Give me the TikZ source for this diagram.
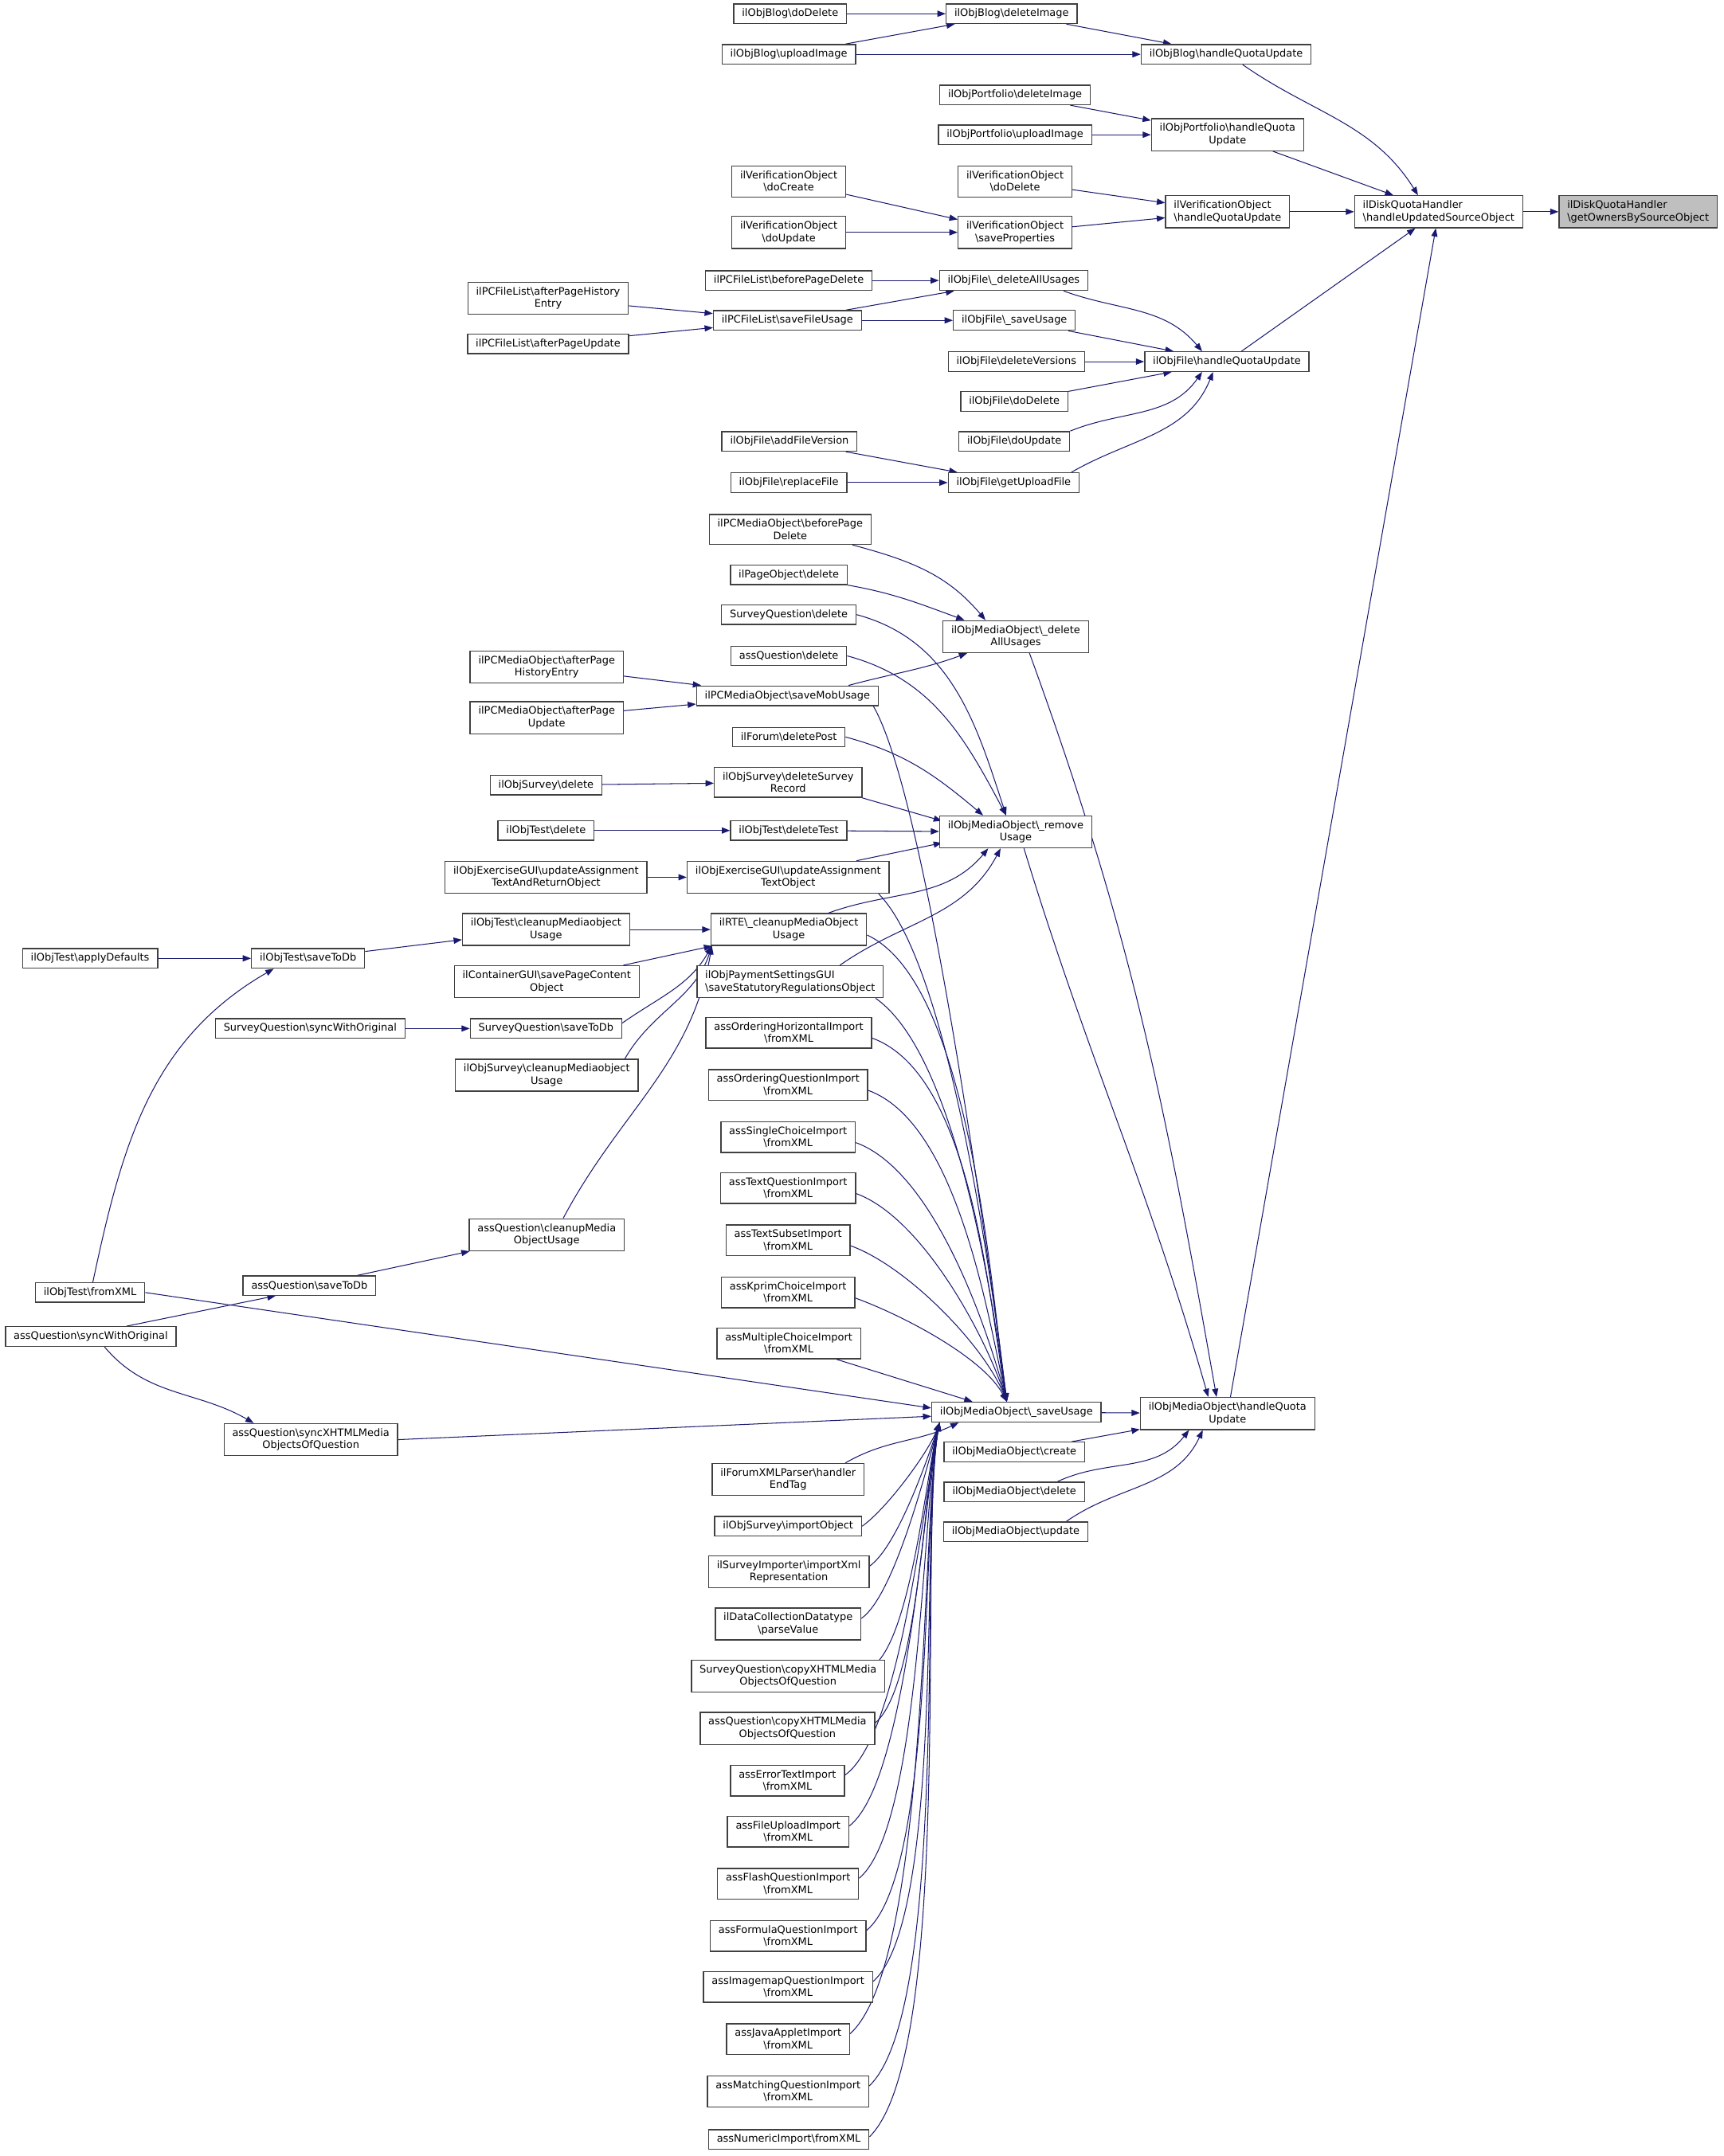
\documentclass[tikz,border=0pt]{standalone}
\usepackage{fontspec}
\setmainfont{DejaVu Sans}
\usetikzlibrary{arrows.meta, calc, backgrounds}
\definecolor{callBlue}{HTML}{191970}
\definecolor{fnBorder}{HTML}{404040}
\definecolor{rootGray}{HTML}{BFBFBF}
\newcommand{\bsl}{\textbackslash}
\newcommand{\fnfont}{\fontsize{7.5}{9}\selectfont}
\tikzset{
  fn/.style={draw=fnBorder, line width=0.8pt, fill=white, font=\fnfont,
    align=center, inner xsep=6pt, inner ysep=3.5pt, minimum height=14pt},
  fnLeft/.style={fn, align=left},
  fnRoot/.style={fnLeft, fill=rootGray},
  call/.style={draw=callBlue, line width=0.6pt, -{Triangle[length=6pt,width=4.5pt]}}
}

\begin{document}
\begin{tikzpicture}[x=1pt, y=1pt]
  \useasboundingbox (0,0) rectangle (1253,-1568);

  % right part
  \node[fnRoot] (root) at (1191,-154) {ilDiskQuotaHandler\\\bsl getOwnersBySourceObject};
  \node[fnLeft] (dqh) at (1046,-154) {ilDiskQuotaHandler\\\bsl handleUpdatedSourceObject};
  \node[fn] (blogHqu) at (891.5,-39.5) {ilObjBlog\bsl handleQuotaUpdate};
  \node[fn] (portHqu) at (892.5,-98) {ilObjPortfolio\bsl handleQuota\\Update};
  \node[fnLeft] (verHqu) at (892.5,-154) {ilVerificationObject\\\bsl handleQuotaUpdate};
  \node[fn] (fileHqu) at (892,-263) {ilObjFile\bsl handleQuotaUpdate};
  \node[fn] (mobHqu) at (892.5,-1028) {ilObjMediaObject\bsl handleQuota\\Update};

  \node[fn] (blogDelImg) at (735.5,-10) {ilObjBlog\bsl deleteImage};
  \node[fn] (portDelImg) at (738,-69) {ilObjPortfolio\bsl deleteImage};
  \node[fn] (portUplImg) at (738,-98) {ilObjPortfolio\bsl uploadImage};
  \node[fn] (verDoDelete) at (738,-132) {ilVerificationObject\\\bsl doDelete};
  \node[fn] (verSaveProp) at (738,-169) {ilVerificationObject\\\bsl saveProperties};
  \node[fn] (fileDelAll) at (737,-204) {ilObjFile\bsl\_deleteAllUsages};
  \node[fn] (fileSaveUsage) at (737.5,-233) {ilObjFile\bsl\_saveUsage};
  \node[fn] (fileDelVer) at (739,-263) {ilObjFile\bsl deleteVersions};
  \node[fn] (fileDoDelete) at (737.5,-292) {ilObjFile\bsl doDelete};
  \node[fn] (fileDoUpdate) at (737.5,-321) {ilObjFile\bsl doUpdate};
  \node[fn] (fileGetUpl) at (737,-351) {ilObjFile\bsl getUploadFile};
  \node[fn] (mobDelAll) at (738.5,-463) {ilObjMediaObject\bsl\_delete\\AllUsages};
  \node[fn] (mobRemove) at (738.5,-605) {ilObjMediaObject\bsl\_remove\\Usage};
  \node[fn] (mobSave) at (739,-1027) {ilObjMediaObject\bsl\_saveUsage};
  \node[fn] (mobCreate) at (737.5,-1056) {ilObjMediaObject\bsl create};
  \node[fn] (mobDelete) at (737.5,-1085) {ilObjMediaObject\bsl delete};
  \node[fn] (mobUpdate) at (738.5,-1114) {ilObjMediaObject\bsl update};

  % middle column
  \node[fn] (blogDoDelete) at (574.5,-10) {ilObjBlog\bsl doDelete};
  \node[fn] (blogUplImg) at (573.5,-39.5) {ilObjBlog\bsl uploadImage};
  \node[fn] (verDoCreate) at (573.5,-132) {ilVerificationObject\\\bsl doCreate};
  \node[fn] (verDoUpdate) at (573.5,-169) {ilVerificationObject\\\bsl doUpdate};
  \node[fn] (pcflBefore) at (573.5,-204) {ilPCFileList\bsl beforePageDelete};
  \node[fn] (pcflSave) at (572.5,-233) {ilPCFileList\bsl saveFileUsage};
  \node[fn] (fileAddVer) at (574,-321) {ilObjFile\bsl addFileVersion};
  \node[fn] (fileReplace) at (573.5,-351) {ilObjFile\bsl replaceFile};
  \node[fn] (pcmBefore) at (574.5,-385) {ilPCMediaObject\bsl beforePage\\Delete};
  \node[fn] (pageObjDel) at (573.5,-418) {ilPageObject\bsl delete};
  \node[fn] (sqDelete) at (573.5,-447) {SurveyQuestion\bsl delete};
  \node[fn] (aqDelete) at (573.5,-477) {assQuestion\bsl delete};
  \node[fn] (pcmSaveMob) at (572.5,-506) {ilPCMediaObject\bsl saveMobUsage};
  \node[fn] (forumDel) at (573.5,-536) {ilForum\bsl deletePost};
  \node[fn] (osDelRec) at (573,-569) {ilObjSurvey\bsl deleteSurvey\\Record};
  \node[fn] (otDelTest) at (573.5,-604) {ilObjTest\bsl deleteTest};
  \node[fn] (exUpdText) at (573,-638) {ilObjExerciseGUI\bsl updateAssignment\\TextObject};
  \node[fn] (rteCleanup) at (573.5,-676) {ilRTE\bsl\_cleanupMediaObject\\Usage};
  \node[fnLeft] (paySet) at (574.5,-714) {ilObjPaymentSettingsGUI\\\bsl saveStatutoryRegulationsObject};
  \node[fn] (ordHor) at (573.5,-751) {assOrderingHorizontalImport\\\bsl fromXML};
  \node[fn] (ordQ) at (573,-789) {assOrderingQuestionImport\\\bsl fromXML};
  \node[fn] (singleCh) at (573,-827) {assSingleChoiceImport\\\bsl fromXML};
  \node[fn] (textQ) at (573,-864) {assTextQuestionImport\\\bsl fromXML};
  \node[fn] (textSub) at (573,-902) {assTextSubsetImport\\\bsl fromXML};
  \node[fn] (kprim) at (573,-940) {assKprimChoiceImport\\\bsl fromXML};
  \node[fn] (multiCh) at (573.5,-977) {assMultipleChoiceImport\\\bsl fromXML};
  \node[fn] (forumXml) at (573,-1076) {ilForumXMLParser\bsl handler\\EndTag};
  \node[fn] (osImport) at (573,-1110) {ilObjSurvey\bsl importObject};
  \node[fn] (surveyImp) at (573.5,-1143) {ilSurveyImporter\bsl importXml\\Representation};
  \node[fn] (dcParse) at (573,-1181) {ilDataCollectionDatatype\\\bsl parseValue};
  \node[fn] (sqCopy) at (573,-1219) {SurveyQuestion\bsl copyXHTMLMedia\\ObjectsOfQuestion};
  \node[fn] (aqCopy) at (572.5,-1257) {assQuestion\bsl copyXHTMLMedia\\ObjectsOfQuestion};
  \node[fn] (errText) at (572.5,-1295) {assErrorTextImport\\\bsl fromXML};
  \node[fn] (fileUpl) at (573,-1332) {assFileUploadImport\\\bsl fromXML};
  \node[fn] (flash) at (573,-1370) {assFlashQuestionImport\\\bsl fromXML};
  \node[fn] (formula) at (573,-1408) {assFormulaQuestionImport\\\bsl fromXML};
  \node[fn] (imagemap) at (573,-1445) {assImagemapQuestionImport\\\bsl fromXML};
  \node[fn] (java) at (573,-1483) {assJavaAppletImport\\\bsl fromXML};
  \node[fn] (matching) at (573,-1521) {assMatchingQuestionImport\\\bsl fromXML};
  \node[fn] (numeric) at (573.5,-1556) {assNumericImport\bsl fromXML};

  % left part
  \node[fn] (pcflAfterHist) at (398.5,-217) {ilPCFileList\bsl afterPageHistory\\Entry};
  \node[fn] (pcflAfterUpd) at (398.5,-250) {ilPCFileList\bsl afterPageUpdate};
  \node[fn] (pcmAfterHist) at (397.5,-485) {ilPCMediaObject\bsl afterPage\\HistoryEntry};
  \node[fn] (pcmAfterUpd) at (397.5,-522) {ilPCMediaObject\bsl afterPage\\Update};
  \node[fn] (osDelete) at (397,-571) {ilObjSurvey\bsl delete};
  \node[fn] (otDelete) at (397,-604) {ilObjTest\bsl delete};
  \node[fn] (exUpdReturn) at (397,-638) {ilObjExerciseGUI\bsl updateAssignment\\TextAndReturnObject};
  \node[fn] (otCleanup) at (397,-676) {ilObjTest\bsl cleanupMediaobject\\Usage};
  \node[fn] (contSave) at (397.5,-714) {ilContainerGUI\bsl savePageContent\\Object};
  \node[fn] (sqSaveToDb) at (397,-748) {SurveyQuestion\bsl saveToDb};
  \node[fn] (osCleanup) at (397.5,-782) {ilObjSurvey\bsl cleanupMediaobject\\Usage};
  \node[fn] (aqCleanup) at (397.5,-898) {assQuestion\bsl cleanupMedia\\ObjectUsage};
  \node[fn] (otSaveToDb) at (224,-697) {ilObjTest\bsl saveToDb};
  \node[fn] (sqSync) at (225.5,-748) {SurveyQuestion\bsl syncWithOriginal};
  \node[fn] (aqSaveToDb) at (225,-935) {assQuestion\bsl saveToDb};
  \node[fn] (aqSyncXhtml) at (226,-1047) {assQuestion\bsl syncXHTMLMedia\\ObjectsOfQuestion};
  \node[fn] (otApply) at (65.5,-697) {ilObjTest\bsl applyDefaults};
  \node[fn] (otFromXml) at (65.5,-940) {ilObjTest\bsl fromXML};
  \node[fn] (aqSync) at (66,-972) {assQuestion\bsl syncWithOriginal};

  \coordinate (mobSaveIn) at ($(mobSave.north)+(-7,0)$);
  \coordinate (mobSaveUp) at ($(mobSave.south west)+(6,0)$);
  \coordinate (mobRemoveIn) at ($(mobRemove.north)+(-7,0)$);
  \coordinate (rteUp) at ($(rteCleanup.south west)+(1,0)$);

  \begin{scope}[on background layer]
  % calls into the quota handler
  \draw[call] (dqh) -- (root);
  \draw[call] ($(blogHqu.south)+(12,0)$) to[out=-35,in=122] ($(dqh.north)+(-15,0)$);
  \draw[call] (portHqu) -- (dqh);
  \draw[call] (verHqu) -- (dqh);
  \draw[call] (fileHqu) -- (dqh);
  \draw[call] (mobHqu) -- (dqh);

  \draw[call] (blogDoDelete) -- (blogDelImg);
  \draw[call] (blogUplImg) -- (blogDelImg);
  \draw[call] (blogUplImg) -- (blogHqu);
  \draw[call] (blogDelImg) -- (blogHqu);
  \draw[call] (portDelImg) -- (portHqu);
  \draw[call] (portUplImg) -- (portHqu);
  \draw[call] (verDoCreate) -- (verSaveProp);
  \draw[call] (verDoUpdate) -- (verSaveProp);
  \draw[call] (verDoDelete) -- (verHqu);
  \draw[call] (verSaveProp) -- (verHqu);

  % file calls
  \draw[call] (pcflAfterHist) -- (pcflSave);
  \draw[call] (pcflAfterUpd) -- (pcflSave);
  \draw[call] (pcflBefore) -- (fileDelAll);
  \draw[call] (pcflSave) -- (fileDelAll);
  \draw[call] (pcflSave) -- (fileSaveUsage);
  \draw[call] (fileAddVer) -- (fileGetUpl);
  \draw[call] (fileReplace) -- (fileGetUpl);
  \draw[call] ($(fileDelAll.south east)+(-18,0)$) to[out=-20,in=130] ($(fileHqu.north)+(-18,0)$);
  \draw[call] (fileSaveUsage) -- (fileHqu);
  \draw[call] (fileDelVer) -- (fileHqu);
  \draw[call] (fileDoDelete) -- (fileHqu);
  \draw[call] (fileDoUpdate.north east) to[out=22,in=-125] ($(fileHqu.south)+(-18,0)$);
  \draw[call] ($(fileGetUpl.north east)+(-6,0)$) to[out=30,in=-112] ($(fileHqu.south)+(-10,0)$);

  % media object calls
  \draw[call] ($(mobDelAll.south)+(10,0)$) to[out=-70,in=100] ($(mobHqu.north)+(-8,0)$);
  \draw[call] ($(mobRemove.south)+(6,0)$) to[out=-73,in=106] ($(mobHqu.north)+(-14,0)$);
  \draw[call] (mobSave) -- (mobHqu);
  \draw[call] (mobCreate) -- (mobHqu);
  \draw[call] ($(mobDelete.north east)+(-20,0)$) to[out=25,in=-128] ($(mobHqu.south)+(-28,0)$);
  \draw[call] ($(mobUpdate.north east)+(-16,0)$) to[out=35,in=-115] ($(mobHqu.south)+(-18,0)$);

  \draw[call] ($(pcmBefore.south east)+(-14,0)$) to[out=-15,in=130] ($(mobDelAll.north)+(-22,0)$);
  \draw[call] (pageObjDel.south east) to[out=-10,in=160] ($(mobDelAll.north west)+(16,0)$);
  \draw[call] ($(pcmSaveMob.north east)+(-22,0)$) to[out=15,in=-160] ($(mobDelAll.south west)+(18,0)$);
  \draw[call] (pcmAfterHist) -- (pcmSaveMob);
  \draw[call] (pcmAfterUpd) -- (pcmSaveMob);

  \draw[call] (sqDelete.east) to[out=-15,in=108] (mobRemoveIn);
  \draw[call] (aqDelete.east) to[out=-15,in=118] (mobRemoveIn);
  \draw[call] (forumDel.east) to[out=-15,in=140] ($(mobRemove.north west)+(32,0)$);
  \draw[call] (osDelRec.south east) -- ($(mobRemove.north west)+(2,-4)$);
  \draw[call] (otDelTest) -- (mobRemove);
  \draw[call] ($(exUpdText.north east)+(-24,0)$) -- ($(mobRemove.south west)+(2,4)$);
  \draw[call] ($(rteCleanup.north east)+(-28,0)$) to[out=20,in=-130] ($(mobRemove.south)+(-20,0)$);
  \draw[call] ($(paySet.north east)+(-32,0)$) to[out=35,in=-118] ($(mobRemove.south)+(-11,0)$);
  \draw[call] (osDelete) -- (osDelRec);
  \draw[call] (otDelete) -- (otDelTest);
  \draw[call] (exUpdReturn) -- (exUpdText);

  % into _saveUsage from above
  \draw[call] ($(pcmSaveMob.south east)+(-4,0)$) to[out=-60,in=97,looseness=0.4] (mobSaveIn);
  \draw[call] ($(exUpdText.south east)+(-8,0)$) to[out=-45,in=97,looseness=0.5] (mobSaveIn);
  \draw[call] ($(rteCleanup.east)+(0,-4)$) to[out=-25,in=98,looseness=0.6] (mobSaveIn);
  \draw[call] ($(paySet.south east)+(-6,0)$) to[out=-35,in=98,looseness=0.6] (mobSaveIn);
  \draw[call] ($(ordHor.east)+(0,-4)$) to[out=-20,in=100,looseness=0.7] (mobSaveIn);
  \draw[call] ($(ordQ.east)+(0,-4)$) to[out=-20,in=102,looseness=0.7] (mobSaveIn);
  \draw[call] ($(singleCh.east)+(0,-4)$) to[out=-20,in=105,looseness=0.7] (mobSaveIn);
  \draw[call] ($(textQ.east)+(0,-4)$) to[out=-20,in=108,looseness=0.7] (mobSaveIn);
  \draw[call] ($(textSub.east)+(0,-4)$) to[out=-20,in=112,looseness=0.7] (mobSaveIn);
  \draw[call] ($(kprim.east)+(0,-4)$) to[out=-20,in=118,looseness=0.7] (mobSaveIn);
  \draw[call] ($(multiCh.south east)+(-18,0)$) -- ($(mobSave.north west)+(30,0)$);
  \draw[call] (otFromXml.east) -- ($(mobSave.west)+(0,3)$);
  \draw[call] (aqSyncXhtml.east) -- ($(mobSave.west)+(0,-3)$);

  % into _saveUsage from below
  \draw[call] ($(forumXml.north east)+(-14,0)$) to[out=30,in=-155] ($(mobSaveUp)+(14,0)$);
  \draw[call] (osImport.east) to[out=35,in=-110,looseness=0.6] (mobSaveUp);
  \draw[call] ($(surveyImp.east)+(0,4)$) to[out=35,in=-108,looseness=0.55] (mobSaveUp);
  \draw[call] ($(dcParse.east)+(0,4)$) to[out=35,in=-106,looseness=0.5] (mobSaveUp);
  \draw[call] ($(sqCopy.east)+(-8,8)$) to[out=40,in=-105,looseness=0.5] (mobSaveUp);
  \draw[call] ($(aqCopy.east)+(0,4)$) to[out=40,in=-105,looseness=0.48] (mobSaveUp);
  \draw[call] ($(errText.east)+(0,4)$) to[out=35,in=-102,looseness=0.48] (mobSaveUp);
  \draw[call] ($(fileUpl.east)+(0,4)$) to[out=38,in=-102,looseness=0.46] (mobSaveUp);
  \draw[call] ($(flash.east)+(0,4)$) to[out=40,in=-102,looseness=0.45] (mobSaveUp);
  \draw[call] ($(formula.east)+(0,4)$) to[out=40,in=-101,looseness=0.45] (mobSaveUp);
  \draw[call] ($(imagemap.east)+(0,4)$) to[out=42,in=-101,looseness=0.44] (mobSaveUp);
  \draw[call] ($(java.east)+(0,4)$) to[out=42,in=-100,looseness=0.44] (mobSaveUp);
  \draw[call] ($(matching.east)+(0,4)$) to[out=44,in=-100,looseness=0.43] (mobSaveUp);
  \draw[call] ($(numeric.east)+(0,2)$) to[out=45,in=-100,looseness=0.43] (mobSaveUp);

  % rte cleanup and test/question helpers
  \draw[call] (otCleanup) -- (rteCleanup);
  \draw[call] (contSave) -- (rteCleanup);
  \draw[call] ($(sqSaveToDb.east)+(0,4)$) to[out=35,in=-120] (rteUp);
  \draw[call] ($(osCleanup.north east)+(-10,0)$) to[out=60,in=-108] (rteUp);
  \draw[call] ($(aqCleanup.north)+(12,0)$) to[out=62,in=-100] (rteUp);
  \draw[call] (otApply) -- (otSaveToDb);
  \draw[call] (otSaveToDb) -- (otCleanup);
  \draw[call] (sqSync) -- (sqSaveToDb);
  \draw[call] (aqSaveToDb) -- (aqCleanup);
  \draw[call] ($(otFromXml.north)+(2,0)$) to[out=78,in=-150] ($(otSaveToDb.south)+(-25,0)$);
  \draw[call] ($(aqSync.north)+(26,0)$) -- ($(aqSaveToDb.south west)+(24,0)$);
  \draw[call] ($(aqSync.south)+(10,0)$) to[out=-50,in=150] ($(aqSyncXhtml.north west)+(22,0)$);
  \end{scope}
\end{tikzpicture}
\end{document}
